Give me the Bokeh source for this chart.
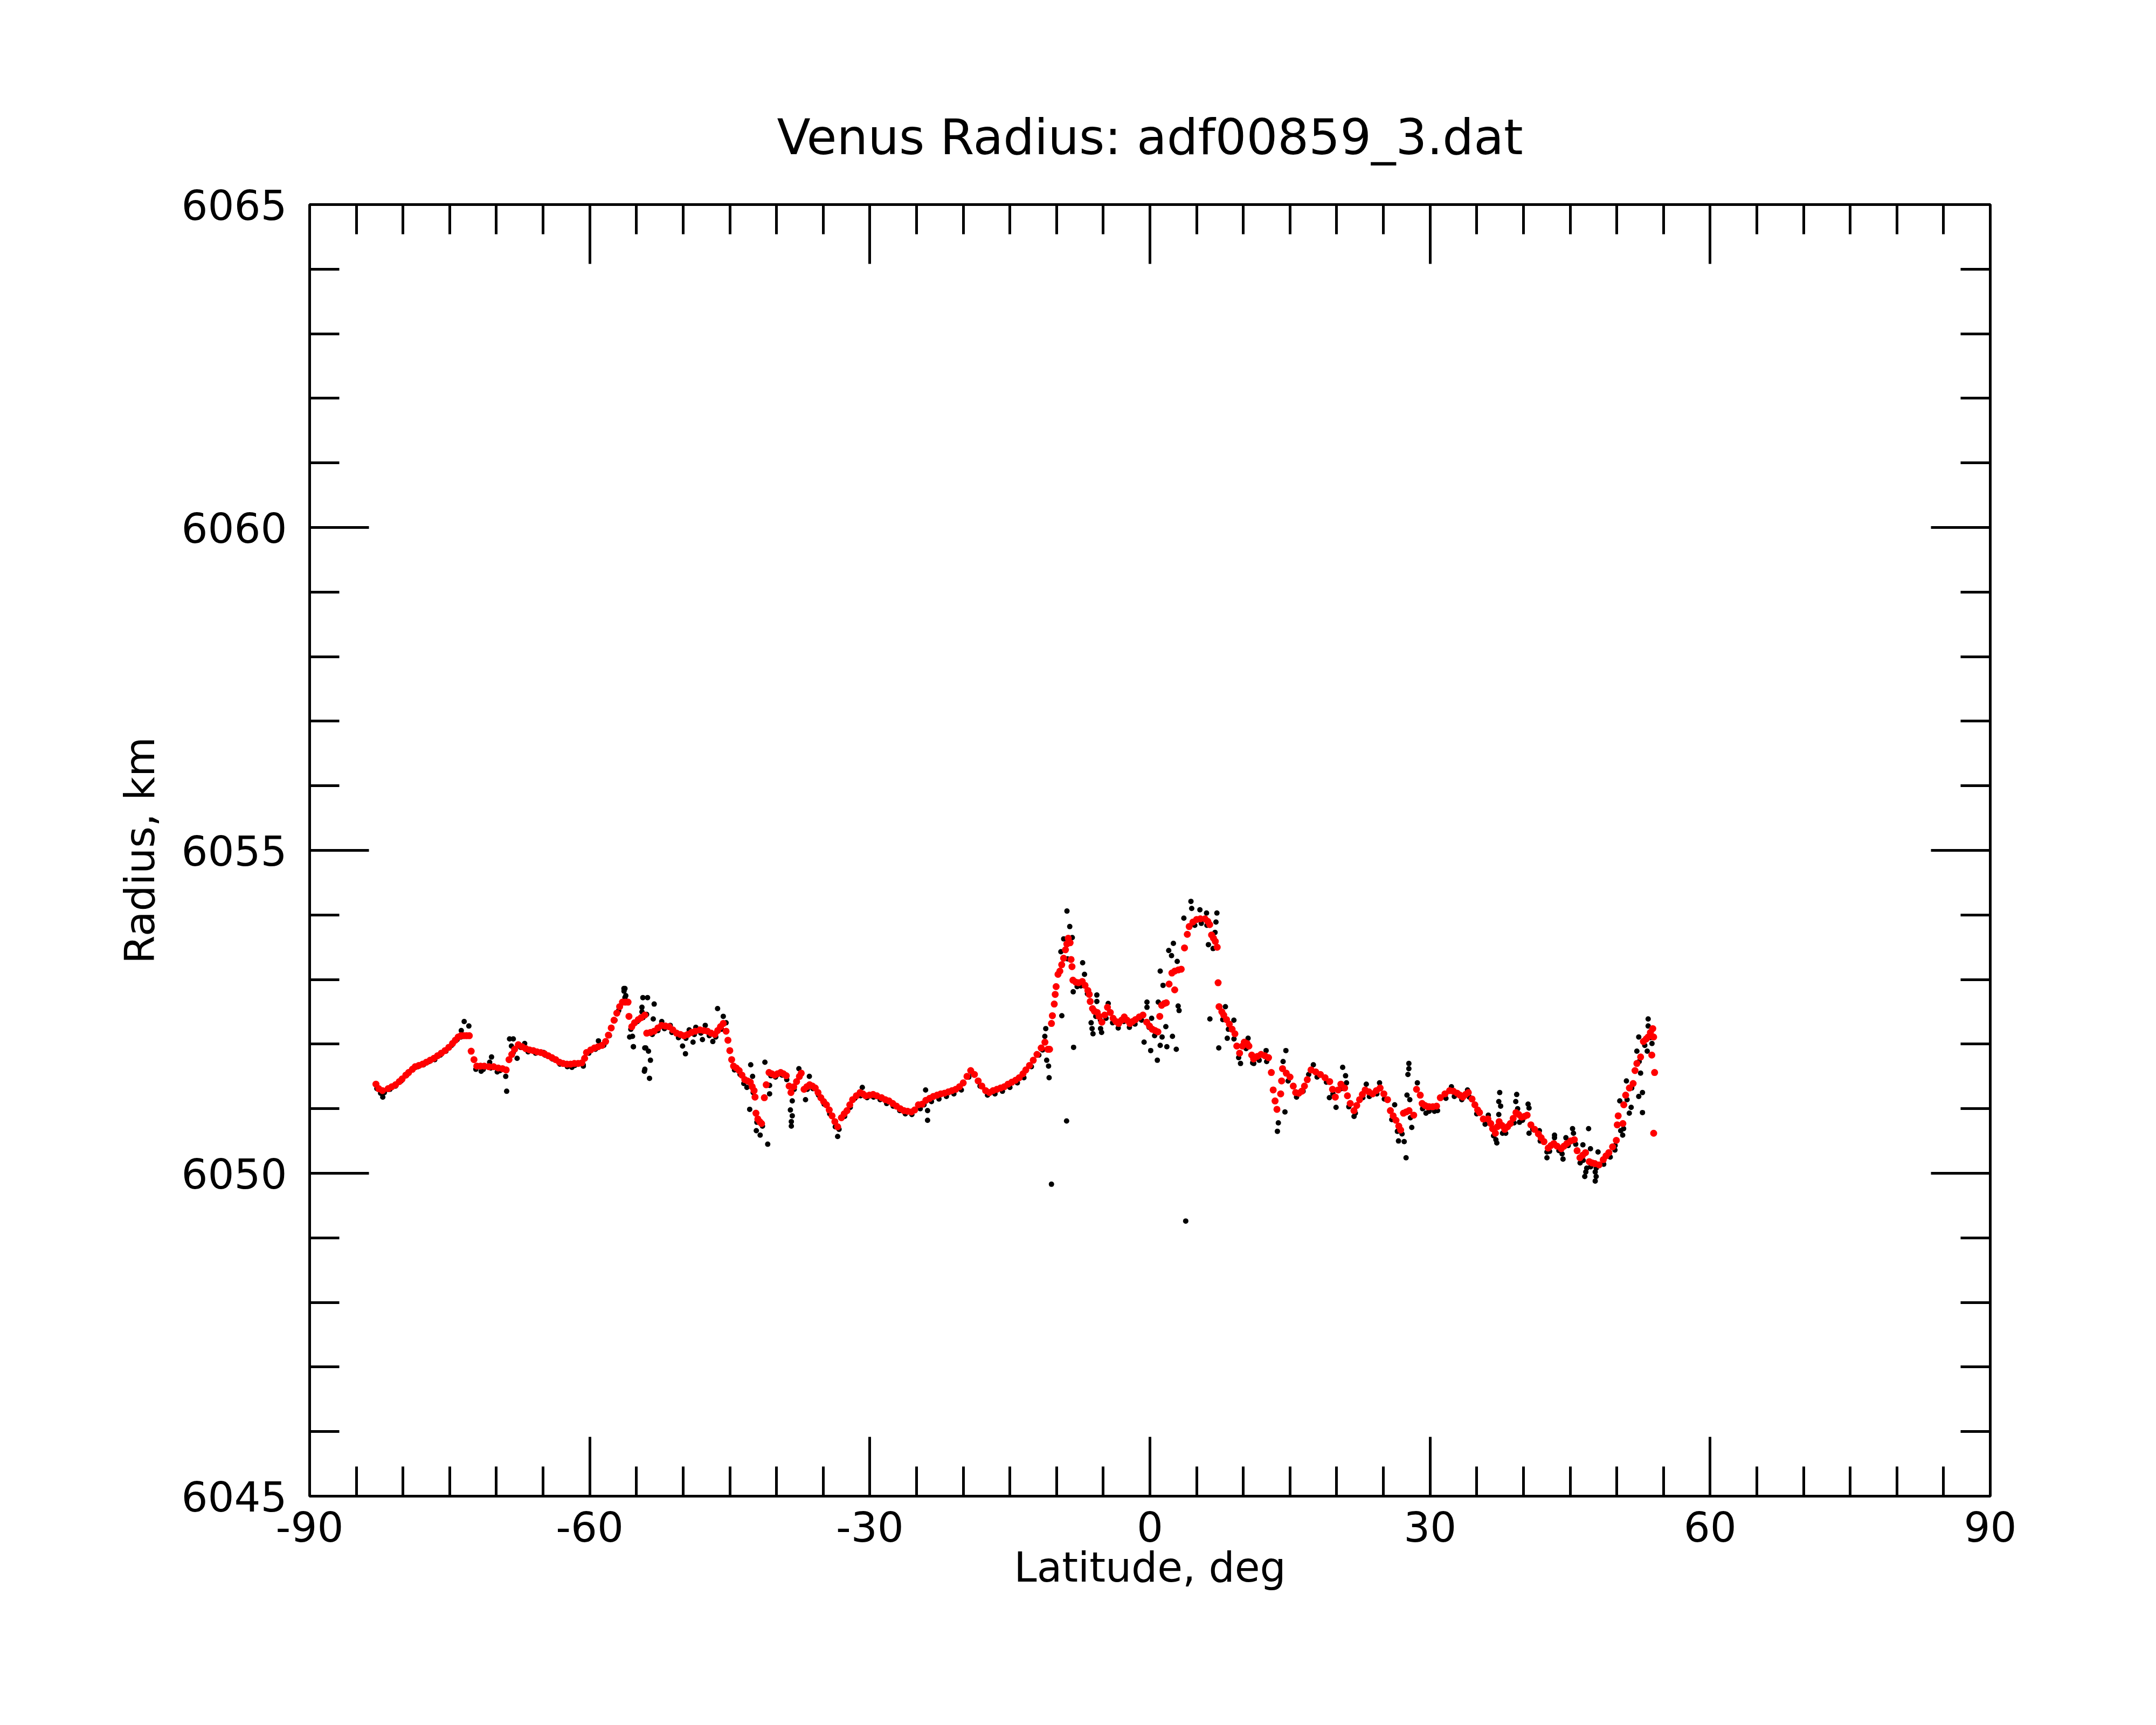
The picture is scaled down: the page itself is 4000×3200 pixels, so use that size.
from bokeh.plotting import figure
from bokeh.models import Range1d, LinearAxis, FixedTicker
from bokeh.embed import file_html
from bokeh.resources import INLINE

# ---------------- data ----------------
title_text = "Venus Radius: adf00859_3.dat"
x_label = "Latitude, deg"
y_label = "Radius, km"
x_ticks = [-90, -60, -30, 0, 30, 60, 90]
x_minor = [-90, -85, -80, -75, -70, -65, -60, -55, -50, -45, -40, -35, -30, -25, -20, -15, -10, -5,
           0, 5, 10, 15, 20, 25, 30, 35, 40, 45, 50, 55, 60, 65, 70, 75, 80, 85, 90]
y_ticks = [6045, 6050, 6055, 6060, 6065]
y_minor = [6045, 6046, 6047, 6048, 6049, 6050, 6051, 6052, 6053, 6054, 6055,
           6056, 6057, 6058, 6059, 6060, 6061, 6062, 6063, 6064, 6065]

# smoothed radius (red dots)
lat_red = [
    -82.9, -82.6, -82.2, -81.6, -81.2, -80.8, -80.4, -80.1, -79.7, -79.4, -79.0, -78.7, -78.3, -77.9,
    -77.5, -77.1, -76.7, -76.3, -75.9, -75.5, -75.1, -74.7, -74.4, -74.1, -73.8, -73.5, -73.2, -72.9,
    -72.7, -72.4, -72.1, -71.7, -71.3, -70.8, -70.3, -69.8, -69.35, -68.95, -68.65, -68.35, -68.05,
    -67.65, -67.25, -66.85, -66.45, -66.05, -65.65, -65.25, -64.85, -64.45, -64.05, -63.65, -63.25,
    -62.85, -62.45, -62.05, -61.65, -61.25, -60.85, -60.55, -60.35, -59.9, -59.5, -59.1, -58.7, -58.3,
    -58.0, -57.7, -57.4, -57.1, -56.8, -56.5, -56.2, -55.9, -55.8, -55.5, -55.2, -54.8, -54.5, -54.1,
    -53.9, -53.5, -53.1, -52.7, -52.3, -51.9, -51.5, -51.1, -50.7, -50.3, -49.9, -49.5, -49.1, -48.7,
    -48.2, -47.8, -47.4, -47.0, -46.6, -46.3, -46.0, -45.7, -45.4, -45.2, -45.0, -44.8, -44.6, -44.3,
    -44.0, -43.7, -43.4, -43.1, -42.8, -42.6, -42.4, -42.3, -42.2, -42.0, -41.8, -41.6, -41.3, -41.1,
    -40.8, -40.5, -40.2, -39.9, -39.55, -39.25, -38.95, -38.65, -38.45, -38.15, -37.85, -37.55, -37.35,
    -37.05, -36.75, -36.45, -36.15, -35.85, -35.55, -35.25, -34.95, -34.65, -34.35, -34.05, -33.75,
    -33.45, -33.05, -32.75, -32.45, -32.15, -31.85, -31.45, -31.05, -30.75, -30.45, -30.05, -29.65,
    -29.25, -28.75, -28.35, -27.95, -27.55, -27.15, -26.75, -26.35, -25.95, -25.55, -25.2, -24.8,
    -24.4, -24.0, -23.6, -23.2, -22.8, -22.4, -22.0, -21.6, -21.2, -20.8, -20.4, -20.0, -19.6, -19.2,
    -18.8, -18.4, -18.0, -17.6, -17.2, -16.8, -16.4, -16.0, -15.6, -15.2, -14.8, -14.4, -14.0, -13.6,
    -13.3, -12.9, -12.5, -12.1, -11.65, -11.25, -10.95, -10.75, -10.55, -10.45, -10.25, -10.15, -10.05,
    -9.85, -9.65, -9.45, -9.25, -9.05, -8.9, -8.75, -8.55, -8.45, -8.35, -8.25, -7.95, -7.65, -7.25,
    -6.95, -6.65, -6.5, -6.4, -6.15, -5.95, -5.65, -5.45, -5.15, -4.85, -4.55, -4.25, -3.95, -3.65,
    -3.35, -3.05, -2.75, -2.45, -2.15, -1.85, -1.55, -1.15, -0.75, -0.35, -0.05, 0.25, 0.55, 0.85,
    1.05, 1.25, 1.55, 1.75, 2.05, 2.35, 2.65, 2.65, 3.05, 3.35, 3.7, 4.0, 4.2, 4.6, 5.0, 5.4, 5.9,
    6.2, 6.4, 6.6, 6.8, 7.0, 7.2, 7.3, 7.4, 7.7, 7.9, 8.2, 8.5, 8.8, 9.1, 9.3, 9.6, 9.9, 10.1, 10.4,
    10.6, 10.9, 11.1, 11.5, 11.9, 12.3, 12.7, 13.0, 13.2, 13.4, 13.6, 14.0, 14.1, 14.2, 14.6, 15.0,
    15.35, 15.6, 15.95, 16.25, 16.55, 16.85, 17.25, 17.75, 18.25, 18.75, 19.25, 19.55, 19.85, 20.15,
    20.45, 20.85, 21.15, 21.45, 21.85, 22.15, 22.45, 22.75, 23.05, 23.45, 23.85, 24.25, 24.65, 25.05,
    25.45, 25.75, 26.05, 26.35, 26.65, 26.85, 27.15, 27.45, 27.75, 28.25, 28.55, 28.95, 29.15, 29.45,
    29.75, 29.9, 30.3, 30.7, 31.1, 31.6, 32.1, 32.5, 32.9, 33.2, 33.5, 33.8, 34.1, 34.5, 34.8, 35.1,
    35.3, 35.7, 36.2, 36.5, 36.7, 37.0, 37.2, 37.4, 37.7, 38.0, 38.3, 38.6, 38.9, 39.2, 39.5, 39.8,
    40.1, 40.4, 40.8, 41.2, 41.6, 41.9, 42.2, 42.65, 42.95, 43.25, 43.6, 44.05, 44.35, 44.65, 45.05,
    45.45, 45.75, 46.05, 46.35, 46.65, 47.05, 47.35, 47.65, 48.1, 48.55, 48.85, 49.15, 49.55, 49.95,
    50.05, 50.15, 50.65, 50.75, 50.95, 51.35, 51.75, 51.95, 52.15, 52.55, 52.85, 53.15, 53.35, 53.6,
    53.85, 53.95, 53.75, 54.05, 53.95,
]
rad_red = [
    6051.38, 6051.31, 6051.28, 6051.31, 6051.34, 6051.37, 6051.42, 6051.46, 6051.52, 6051.56, 6051.61,
    6051.65, 6051.67, 6051.69, 6051.72, 6051.75, 6051.78, 6051.82, 6051.86, 6051.90, 6051.95, 6052.01,
    6052.06, 6052.11, 6052.13, 6052.13, 6052.13, 6052.13, 6051.89, 6051.76, 6051.66, 6051.66, 6051.66,
    6051.65, 6051.65, 6051.63, 6051.62, 6051.60, 6051.76, 6051.84, 6051.92, 6051.99, 6051.96, 6051.93,
    6051.91, 6051.90, 6051.88, 6051.87, 6051.85, 6051.82, 6051.79, 6051.76, 6051.72, 6051.70, 6051.69,
    6051.69, 6051.70, 6051.70, 6051.71, 6051.78, 6051.87, 6051.91, 6051.94, 6051.96, 6051.98, 6052.04,
    6052.14, 6052.25, 6052.37, 6052.48, 6052.58, 6052.65, 6052.65, 6052.65, 6052.43, 6052.27, 6052.33,
    6052.38, 6052.41, 6052.45, 6052.17, 6052.18, 6052.20, 6052.25, 6052.29, 6052.28, 6052.27, 6052.22,
    6052.17, 6052.15, 6052.13, 6052.15, 6052.18, 6052.20, 6052.22, 6052.21, 6052.20, 6052.17, 6052.15,
    6052.21, 6052.27, 6052.32, 6052.20, 6052.06, 6051.90, 6051.76, 6051.66, 6051.63, 6051.59, 6051.52,
    6051.45, 6051.43, 6051.41, 6051.34, 6051.28, 6051.18, 6050.93, 6050.84, 6050.80, 6050.77, 6051.17,
    6051.37, 6051.56, 6051.54, 6051.52, 6051.54, 6051.56, 6051.54, 6051.51, 6051.35, 6051.25, 6051.34,
    6051.42, 6051.50, 6051.55, 6051.30, 6051.34, 6051.37, 6051.35, 6051.32, 6051.25, 6051.17, 6051.11,
    6051.06, 6050.98, 6050.89, 6050.80, 6050.72, 6050.86, 6050.92, 6050.97, 6051.06, 6051.14, 6051.20,
    6051.25, 6051.23, 6051.20, 6051.21, 6051.22, 6051.20, 6051.17, 6051.14, 6051.12, 6051.08, 6051.04,
    6051.00, 6050.97, 6050.96, 6050.95, 6050.98, 6051.06, 6051.07, 6051.13, 6051.16, 6051.19, 6051.21,
    6051.23, 6051.24, 6051.26, 6051.28, 6051.30, 6051.34, 6051.40, 6051.50, 6051.59, 6051.53, 6051.43,
    6051.35, 6051.28, 6051.25, 6051.28, 6051.30, 6051.32, 6051.34, 6051.38, 6051.41, 6051.44, 6051.48,
    6051.54, 6051.60, 6051.67, 6051.75, 6051.84, 6051.94, 6052.03, 6051.92, 6051.92, 6052.32, 6052.44,
    6052.62, 6052.77, 6052.89, 6053.08, 6053.13, 6053.23, 6053.33, 6053.46, 6053.55, 6053.64, 6053.57,
    6053.31, 6053.20, 6052.99, 6052.96, 6052.95, 6052.97, 6052.91, 6052.83, 6052.77, 6052.66, 6052.55,
    6052.51, 6052.49, 6052.43, 6052.34, 6052.45, 6052.57, 6052.49, 6052.40, 6052.35, 6052.32, 6052.37,
    6052.42, 6052.37, 6052.32, 6052.35, 6052.38, 6052.42, 6052.45, 6052.34, 6052.28, 6052.23, 6052.21,
    6052.19, 6052.43, 6052.60, 6052.63, 6052.64, 6052.93, 6053.10, 6053.13, 6052.84, 6053.15, 6053.16,
    6053.49, 6053.70, 6053.82, 6053.89, 6053.93, 6053.94, 6053.94, 6053.90, 6053.85, 6053.69, 6053.64,
    6053.59, 6053.50, 6052.95, 6052.58, 6052.50, 6052.45, 6052.38, 6052.31, 6052.23, 6052.16, 6051.97,
    6051.86, 6051.97, 6052.03, 6052.01, 6051.97, 6051.83, 6051.77, 6051.81, 6051.84, 6051.82, 6051.79,
    6051.56, 6051.29, 6051.12, 6050.99, 6051.23, 6051.43, 6051.62, 6051.55, 6051.49, 6051.35, 6051.25,
    6051.24, 6051.27, 6051.35, 6051.45, 6051.60, 6051.57, 6051.53, 6051.48, 6051.42, 6051.30, 6051.18,
    6051.29, 6051.38, 6051.32, 6051.20, 6051.08, 6050.97, 6051.05, 6051.14, 6051.22, 6051.29, 6051.26,
    6051.23, 6051.28, 6051.32, 6051.23, 6051.14, 6050.97, 6050.89, 6050.82, 6050.73, 6050.67, 6050.93,
    6050.95, 6050.97, 6050.90, 6051.30, 6051.21, 6051.08, 6051.05, 6051.03, 6051.03, 6051.03, 6051.04,
    6051.17, 6051.23, 6051.28, 6051.27, 6051.24, 6051.21, 6051.18, 6051.22, 6051.25, 6051.15, 6051.06,
    6050.98, 6050.94, 6050.84, 6050.84, 6050.77, 6050.69, 6050.62, 6050.72, 6050.80, 6050.74, 6050.68,
    6050.72, 6050.77, 6050.85, 6050.94, 6050.91, 6050.87, 6050.88, 6050.90, 6050.75, 6050.68, 6050.61,
    6050.55, 6050.49, 6050.39, 6050.43, 6050.46, 6050.42, 6050.38, 6050.42, 6050.46, 6050.50, 6050.52,
    6050.35, 6050.24, 6050.28, 6050.32, 6050.18, 6050.16, 6050.15, 6050.13, 6050.21, 6050.27, 6050.32,
    6050.41, 6050.51, 6050.75, 6050.89, 6050.77, 6051.06, 6051.21, 6051.32, 6051.39, 6051.59, 6051.70,
    6051.80, 6052.04, 6052.08, 6052.11, 6052.18, 6052.24, 6052.11, 6051.83, 6051.56, 6050.62,
]

# individual radius measurements (black dots)
lat_blk = [
    -82.8, -82.4, -82.0, -81.4, -80.8, -80.2, -79.6, -79.0, -78.4, -77.8, -77.2, -76.6, -76.0, -75.4,
    -74.8, -74.2, -73.8, -72.2, -71.4, -70.6, -69.6, -68.2, -67.4, -66.6, -65.8, -64.8, -64.0, -63.2,
    -62.4, -61.6, -60.7, -60.1, -59.4, -58.5, -57.9, -57.3, -56.9, -55.6, -54.9, -54.3, -53.3, -52.7,
    -52.0, -51.2, -50.5, -49.7, -48.8, -48.1, -47.2, -46.5, -45.9, -44.5, -43.9, -43.5, -42.5, -42.1,
    -41.5, -40.6, -40.1, -39.4, -38.9, -38.1, -37.5, -36.7, -36.1, -35.5, -34.9, -34.3, -33.7, -33.3,
    -32.7, -32.1, -31.6, -31.0, -30.3, -29.6, -28.9, -28.2, -27.5, -26.8, -26.2, -25.5, -24.6, -24.2,
    -23.4, -22.6, -21.8, -21.0, -20.2, -19.4, -19.0, -18.2, -17.4, -16.6, -15.8, -15.0, -14.2, -13.5,
    -12.7, -11.9, -11.5, -7.8, -7.4, -6.7, -5.8, -5.3, -4.7, -4.0, -3.4, -2.8, -2.2, -1.6, -0.9, -0.1,
    0.5, 4.8, 5.5, 6.1, 7.8, 8.4, 9.0, 9.5, 10.3, 11.0, 11.7, 12.5, 14.8, 15.7, 16.4, 17.0, 17.9, 18.9,
    19.6, 20.5, 21.3, 22.0, 22.8, 23.5, 24.3, 25.1, 25.9, 26.5, 27.0, 27.9, 29.2, 29.9, 30.8, 31.7,
    32.6, 33.4, 34.2, 35.0, 35.9, 36.8, 38.1, 39.0, 39.9, 41.0, 41.8, 42.8, 43.8, 44.8, 45.6, 46.4,
    47.2, 47.8, 48.6, 49.3, 49.8, 51.1, 51.6, 52.4, 53.0, 53.6,
    # scattered measurements
    -82.17, -73.45, -72.95, -73.76, -70.52, -70.72, -71.63, -69.91, -69.0, -68.9, -68.59, -68.19,
    -68.39, -67.78, -66.97, -64.94, -61.91, -60.69, -59.07, -56.23, -56.33, -56.23, -55.42, -55.32,
    -54.1, -54.41, -54.0, -56.34, -56.14, -55.73, -55.33, -54.31, -53.81, -53.1, -54.41, -53.91, -53.2,
    -54.11, -53.71, -53.5, -54.15, -53.6, -52.29, -51.38, -50.06, -49.75, -48.94, -49.35, -48.64,
    -47.93, -47.63, -46.82, -46.31, -45.7, -45.4, -42.76, -42.56, -43.17, -42.87, -42.16, -41.75,
    -40.94, -41.24, -40.74, -40.74, -37.6, -36.48, -38.31, -38.51, -38.31, -38.41, -38.41, -36.89,
    -33.45, -30.81, -24.03, -23.82, -23.82, -11.16, -11.26, -11.06, -10.86, -10.8, -10.55, -8.93,
    -8.89, -8.59, -8.32, -9.24, -9.54, -8.83, -9.44, -8.22, -8.18, -7.21, -7.01, -5.69, -5.69, -6.3,
    -6.2, -6.1, -5.29, -5.18, -4.47, -0.32, -0.32, 0.18, -0.63, 0.08, 0.79, 1.1, 1.3, 1.81, 2.41,
    2.82, 1.1, 1.4, 0.89, 1.7, 2.51, 2.01, 2.31, 2.92, 3.02, 3.12, 3.63, 3.83, 4.39, 4.47, 5.35, 6.06,
    7.17, 7.07, 6.97, 6.26, 6.76, 6.42, 7.37, 8.08, 8.99, 8.28, 9.7, 10.51, 11.12, 12.44, 14.56,
    14.26, 13.65, 13.75, 14.46, 17.5, 19.22, 19.93, 20.64, 20.95, 21.05, 21.86, 23.17, 24.59, 26.21,
    26.62, 27.23, 27.43, 27.73, 27.73, 27.63, 27.53, 27.83, 28.04, 28.64, 29.56, 30.47, 32.29, 30.47,
    34.01, 36.24, 37.05, 37.15, 37.46, 37.36, 37.56, 37.36, 37.76, 39.28, 39.18, 39.38, 40.5, 40.6,
    39.58, 40.6, 41.71, 42.52, 42.52, 43.33, 43.33, 44.24, 44.14, 44.55, 45.26, 45.36, 46.37, 46.07,
    46.78, 46.68, 46.57, 46.98, 47.18, 47.69, 47.79, 47.69, 47.99, 48.5, 49.82, 50.32, 50.42, 50.63,
    50.73, 51.03, 51.34, 51.54, 52.15, 52.35, 52.55, 52.35, 52.75, 52.75, 53.26, 53.36, 53.36, 53.77,
]
rad_blk = [
    6051.31, 6051.24, 6051.25, 6051.30, 6051.35, 6051.43, 6051.52, 6051.60, 6051.65, 6051.68, 6051.73,
    6051.76, 6051.83, 6051.89, 6051.98, 6052.07, 6052.11, 6051.61, 6051.61, 6051.63, 6051.59, 6051.87,
    6051.95, 6051.88, 6051.86, 6051.83, 6051.77, 6051.69, 6051.65, 6051.67, 6051.68, 6051.86, 6051.92,
    6051.98, 6052.13, 6052.37, 6052.52, 6052.23, 6052.35, 6052.41, 6052.15, 6052.21, 6052.24, 6052.18,
    6052.10, 6052.09, 6052.15, 6052.17, 6052.13, 6052.11, 6052.23, 6051.60, 6051.53, 6051.39, 6051.25,
    6050.79, 6050.73, 6051.51, 6051.49, 6051.52, 6051.45, 6051.30, 6051.49, 6051.30, 6051.31, 6051.21,
    6051.07, 6050.92, 6050.72, 6050.68, 6050.88, 6051.02, 6051.16, 6051.20, 6051.17, 6051.18, 6051.14,
    6051.08, 6051.04, 6050.97, 6050.92, 6050.91, 6051.00, 6051.06, 6051.11, 6051.15, 6051.19, 6051.23,
    6051.29, 6051.49, 6051.55, 6051.35, 6051.21, 6051.23, 6051.27, 6051.33, 6051.40, 6051.48, 6051.65,
    6051.83, 6051.91, 6052.89, 6052.90, 6052.78, 6052.43, 6052.37, 6052.40, 6052.33, 6052.25, 6052.35,
    6052.26, 6052.31, 6052.37, 6052.26, 6052.13, 6053.84, 6053.87, 6053.84, 6052.38, 6052.23, 6052.08,
    6051.79, 6051.93, 6051.71, 6051.75, 6051.73, 6051.43, 6051.18, 6051.27, 6051.53, 6051.49, 6051.41,
    6051.23, 6051.31, 6051.03, 6050.93, 6051.17, 6051.19, 6051.23, 6051.15, 6050.83, 6050.65, 6050.61,
    6050.86, 6051.00, 6050.96, 6050.97, 6051.16, 6051.19, 6051.14, 6051.18, 6050.92, 6050.76, 6050.58,
    6050.62, 6050.78, 6050.82, 6050.68, 6050.50, 6050.34, 6050.35, 6050.43, 6050.45, 6050.20, 6050.10,
    6050.08, 6050.14, 6050.25, 6050.36, 6051.14, 6051.32, 6051.73, 6051.98, 6052.10,
    # scattered measurements
    6051.18, 6052.35, 6052.28, 6052.21, 6051.80, 6051.72, 6051.58, 6051.57, 6051.50, 6051.27, 6052.08,
    6052.08, 6051.97, 6051.78, 6052.01, 6051.87, 6051.64, 6051.66, 6052.05, 6052.86, 6052.82, 6052.72,
    6052.12, 6051.96, 6051.61, 6052.50, 6051.94, 6052.86, 6052.75, 6052.11, 6051.96, 6052.72, 6052.72,
    6052.62, 6052.57, 6052.46, 6052.39, 6051.94, 6051.89, 6051.75, 6051.58, 6051.47, 6052.35, 6052.29,
    6051.97, 6051.85, 6052.03, 6052.22, 6052.26, 6052.07, 6052.29, 6052.04, 6052.55, 6052.43, 6052.33,
    6051.68, 6051.50, 6051.33, 6050.99, 6050.66, 6050.59, 6050.45, 6051.72, 6051.36, 6051.23, 6051.62,
    6051.50, 6051.12, 6050.98, 6050.89, 6050.80, 6050.73, 6051.14, 6050.57, 6051.33, 6051.29, 6050.97,
    6050.82, 6052.24, 6052.12, 6051.75, 6051.66, 6051.48, 6049.83, 6050.81, 6054.06, 6053.82, 6053.65,
    6053.63, 6053.43, 6053.32, 6052.44, 6052.81, 6051.95, 6053.26, 6053.08, 6052.76, 6052.66, 6052.33,
    6052.24, 6052.16, 6052.24, 6052.18, 6052.63, 6052.65, 6052.57, 6052.40, 6052.03, 6051.90, 6051.75,
    6051.98, 6052.11, 6051.96, 6052.12, 6051.92, 6053.13, 6052.91, 6052.65, 6052.27, 6053.56, 6053.45,
    6053.37, 6053.28, 6052.59, 6052.52, 6053.95, 6049.26, 6054.21, 6054.10, 6054.08, 6054.03, 6054.03,
    6053.89, 6053.73, 6053.54, 6053.48, 6052.39, 6051.94, 6052.58, 6052.37, 6052.09, 6051.70, 6052.09,
    6051.70, 6051.90, 6051.90, 6051.73, 6050.65, 6050.78, 6050.95, 6051.68, 6051.17, 6051.02, 6051.64,
    6051.51, 6051.40, 6050.88, 6051.38, 6051.40, 6051.06, 6050.50, 6050.49, 6050.24, 6051.70, 6051.62,
    6051.53, 6051.21, 6051.14, 6050.71, 6051.40, 6050.93, 6050.97, 6051.34, 6050.96, 6051.29, 6050.90,
    6050.52, 6050.47, 6051.25, 6051.11, 6051.04, 6050.91, 6050.62, 6051.22, 6051.11, 6051.00, 6051.07,
    6051.01, 6050.79, 6050.62, 6050.66, 6050.33, 6050.24, 6050.59, 6050.55, 6050.22, 6050.30, 6050.55,
    6050.69, 6050.62, 6050.44, 6050.16, 6050.08, 6050.02, 6049.95, 6050.69, 6050.38, 6050.02, 6049.95,
    6049.88, 6050.33, 6050.15, 6050.43, 6051.12, 6050.66, 6050.59, 6050.69, 6051.43, 6050.93, 6051.02,
    6051.89, 6052.11, 6051.55, 6051.19, 6051.25, 6050.94, 6051.89, 6052.39, 6052.28, 6052.01,
]

# ---------------- figure ----------------
FONT = "DejaVu Sans"

p = figure(
    frame_width=3118, frame_height=2396,
    x_range=Range1d(-90, 90), y_range=Range1d(6045, 6065),
    output_backend="svg", toolbar_location=None,
    min_border_left=574, min_border_right=292, min_border_top=379, min_border_bottom=409,
    background_fill_color="white", border_fill_color="white",
)
p.xgrid.visible = False
p.ygrid.visible = False
p.outline_line_color = "black"
p.outline_line_width = 5
p.outline_line_alpha = 1.0

p.title.text = title_text
p.title.text_font = FONT
p.title.text_font_size = "91px"
p.title.text_font_style = "normal"
p.title.text_color = "black"
p.title.align = "center"
p.title.standoff = 146

# keep explicit handles on the main axes before adding mirrored ones
xb = p.below[0]
yl = p.left[0]

top_axis = LinearAxis()
right_axis = LinearAxis()
p.add_layout(top_axis, "above")
p.add_layout(right_axis, "right")


def style_axis(ax, ticks, minor, show_labels):
    ax.ticker = FixedTicker(ticks=ticks, minor_ticks=minor)
    ax.axis_line_color = None
    ax.major_tick_in = 110
    ax.major_tick_out = 0
    ax.minor_tick_in = 55
    ax.minor_tick_out = 0
    ax.major_tick_line_width = 5
    ax.minor_tick_line_width = 5
    ax.major_tick_line_color = "black"
    ax.minor_tick_line_color = "black"
    if show_labels:
        ax.major_label_overrides = {t: str(t) for t in ticks}
        ax.major_label_text_font = FONT
        ax.major_label_text_font_size = "77px"
        ax.major_label_text_color = "black"
        ax.axis_label_text_font = FONT
        ax.axis_label_text_font_size = "76px"
        ax.axis_label_text_font_style = "normal"
        ax.axis_label_text_color = "black"
    else:
        ax.major_label_text_font_size = "0px"
        ax.major_label_standoff = 0
        ax.major_label_text_alpha = 0


style_axis(xb, x_ticks, x_minor, True)
style_axis(top_axis, x_ticks, x_minor, False)
style_axis(yl, y_ticks, y_minor, True)
style_axis(right_axis, y_ticks, y_minor, False)

xb.axis_label = x_label
xb.major_label_standoff = 28
xb.axis_label_standoff = 0
yl.axis_label = y_label
yl.major_label_standoff = 42
yl.axis_label_standoff = 30

p.scatter(lat_blk, rad_blk, size=10, color="black", line_color=None)
p.scatter(lat_red, rad_red, size=13, color="red", line_color=None)

open("out.html", "w").write(file_html(p, INLINE))
